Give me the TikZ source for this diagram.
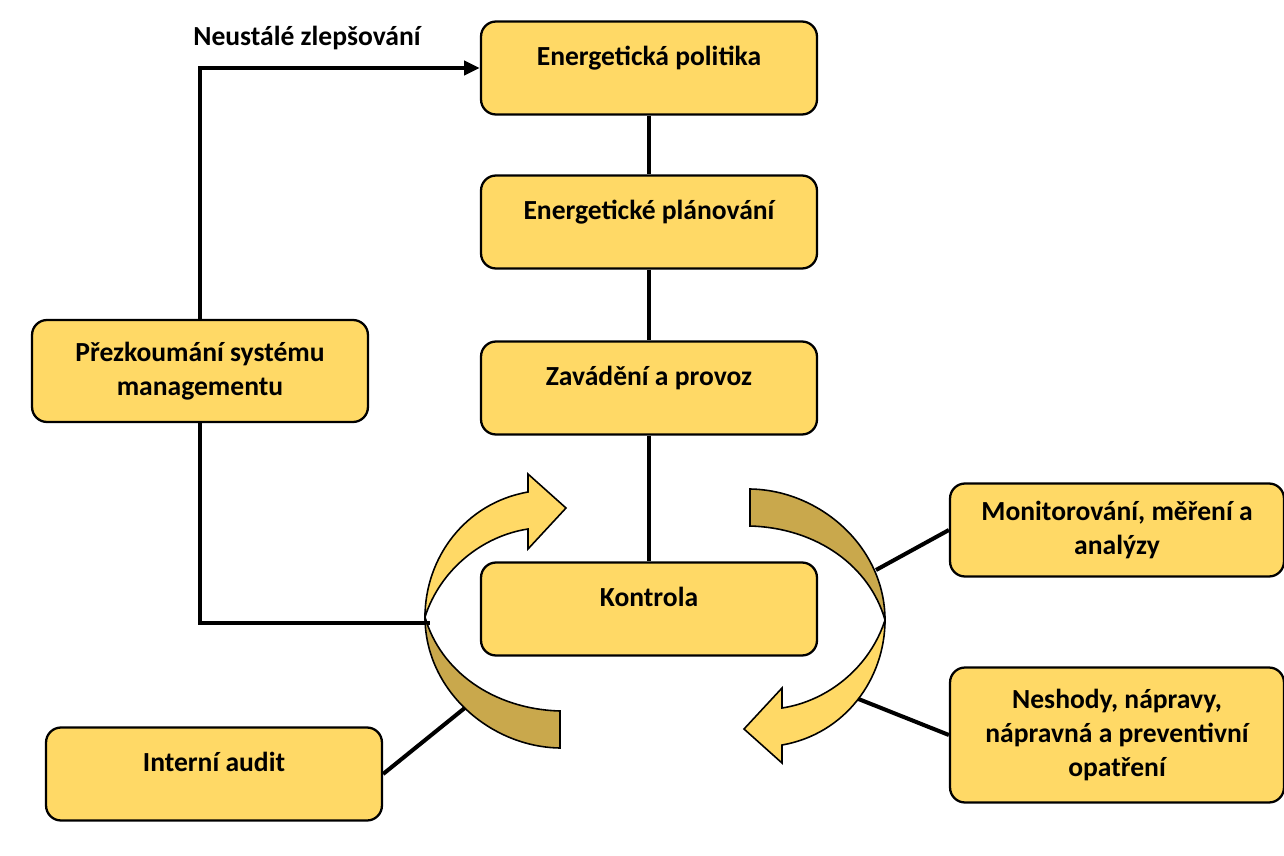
\documentclass[tikz,border=0pt]{standalone}
\usepackage{fontspec}
\setmainfont{Carlito}
\usepackage{xcolor}
\usetikzlibrary{arrows.meta}

\definecolor{gold}{HTML}{FFD966}
\definecolor{darkgold}{HTML}{C9A84C}

% one twisted loop arrow, drawn in pixel coordinates
\newcommand{\ribbonArrow}{%
  \filldraw[fill=darkgold, line width=0.9pt]
    (425,617) .. controls (425,690) and (490,747) .. (560,748) -- (560,711)
    .. controls (492,709) and (440,670) .. (425,617) -- cycle;
  \filldraw[fill=gold, line width=0.9pt, line join=miter]
    (425,617) .. controls (425,558) and (465,503) .. (528,492)
    -- (528,474) -- (566,508) -- (528,549) -- (528,529)
    .. controls (482,536) and (440,570) .. (425,617) -- cycle;
}

\begin{document}
\begin{tikzpicture}[x=0.02cm, y=-0.02cm,
  box/.style={draw, fill=gold, line width=1.3pt, rounded corners=0.3cm,
    minimum width=6.72cm, minimum height=1.86cm, align=center,
    font=\fontsize{15.7}{19.5}\selectfont\bfseries},
  single/.style={text height=11pt, text depth=14pt},
  conn/.style={line width=2.3pt},
  lbl/.style={font=\fontsize{15.7}{18}\selectfont\bfseries, inner sep=0pt}]
\useasboundingbox (0,0) rectangle (1284,855);

\node[box, single] (politika) at (649,68) {Energetická politika};
\node[box, single] (planovani) at (649,222) {Energetické plánování};
\node[box, single] (provoz) at (649,388) {Zavádění a provoz};
\node[box, single] (kontrola) at (649,609) {Kontrola};
\node[box, minimum height=2.04cm] (prezkoumani) at (200,371) {Přezkoumání systému\\managementu};
\node[box, minimum width=6.68cm] (monitor) at (1117,530) {Monitorování, měření a\\analýzy};
\node[box, minimum width=6.68cm, minimum height=2.7cm] (neshody) at (1117,735)
  {Neshody, nápravy,\\nápravná a preventivní\\opatření};
\node[box, single] (audit) at (214,774) {Interní audit};

\node[lbl, anchor=south west] (zlepsovani) at (193,50) {Neustálé zlepšování};

\coordinate (leftX) at (430,623);
\coordinate (auditEnd) at (466,707);
\coordinate (monEnd) at (876,570);
\coordinate (nesEnd) at (856,698);

\draw[conn] (politika) -- (planovani);
\draw[conn] (planovani) -- (provoz);
\draw[conn] (provoz) -- (kontrola);
\draw[conn, -{Triangle[length=9pt,width=8pt]}] (prezkoumani.north) |- (politika.west);
\draw[conn] (prezkoumani.south) |- (leftX);
\draw[conn] (audit.east) -- (auditEnd);
\draw[conn] (monitor.west) -- (monEnd);
\draw[conn] (neshody.west) -- (nesEnd);

\ribbonArrow
\begin{scope}[rotate around={180:(655,618.5)}]
\ribbonArrow
\end{scope}
\end{tikzpicture}
\end{document}
